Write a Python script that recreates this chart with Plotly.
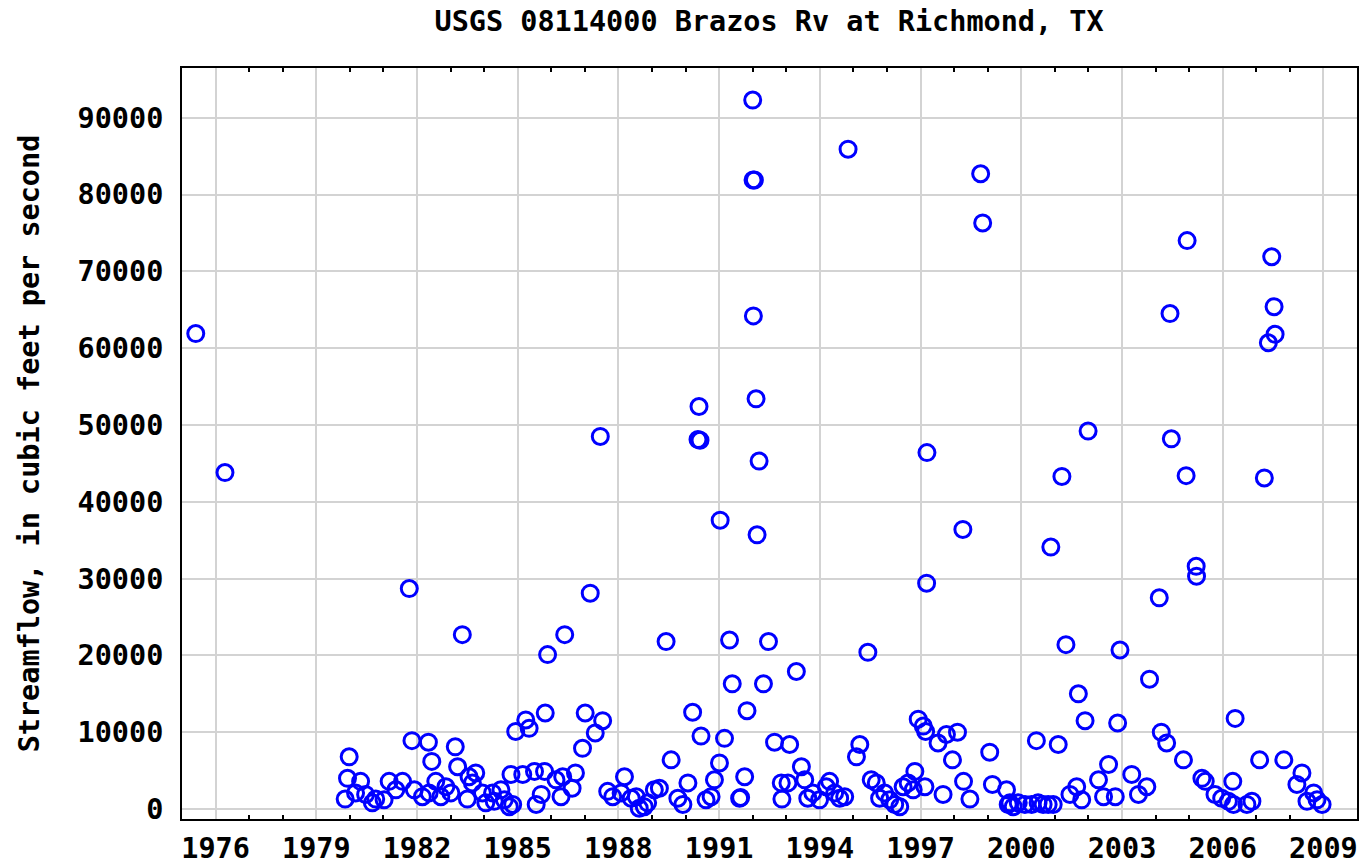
import plotly.graph_objects as go

title_text = "USGS 08114000 Brazos Rv at Richmond, TX"
y_title = "Streamflow, in cubic feet per second"

years = [
    1975.41, 1976.28,
    1979.86, 1979.93, 1979.98, 1980.17, 1980.32, 1980.47, 1980.67, 1980.77,
    1981.02, 1981.17, 1981.37, 1981.57, 1981.77, 1981.85, 1981.92,
    1982.16, 1982.34, 1982.36, 1982.44, 1982.56, 1982.71, 1982.86,
    1983.01, 1983.14, 1983.21, 1983.35, 1983.50, 1983.55, 1983.65, 1983.75, 1983.95,
    1984.05, 1984.25, 1984.30, 1984.50, 1984.60, 1984.75, 1984.80, 1984.85, 1984.94,
    1985.15, 1985.24, 1985.34, 1985.50, 1985.55, 1985.70, 1985.80, 1985.82, 1985.89,
    1986.14, 1986.29, 1986.34, 1986.40, 1986.62, 1986.72, 1986.93,
    1987.01, 1987.16, 1987.31, 1987.46, 1987.53, 1987.68, 1987.83,
    1988.08, 1988.18, 1988.38, 1988.53, 1988.62, 1988.77, 1988.87,
    1989.07, 1989.22, 1989.42, 1989.57, 1989.77, 1989.92,
    1990.07, 1990.21, 1990.37, 1990.40, 1990.43, 1990.46, 1990.61, 1990.76, 1990.86,
    1991.01, 1991.03, 1991.16, 1991.31, 1991.39, 1991.61, 1991.64, 1991.76, 1991.83,
    1992.00, 1992.01, 1992.05, 1992.02, 1992.10, 1992.19, 1992.13, 1992.32, 1992.47,
    1992.65, 1992.85, 1992.87,
    1993.05, 1993.10, 1993.30, 1993.45, 1993.55, 1993.64, 1993.79, 1993.99,
    1994.19, 1994.29, 1994.44, 1994.59, 1994.74, 1994.84,
    1995.09, 1995.19, 1995.43, 1995.53, 1995.68, 1995.78, 1995.93,
    1996.08, 1996.23, 1996.38, 1996.48, 1996.63, 1996.78, 1996.83, 1996.93,
    1997.08, 1997.13, 1997.15, 1997.18, 1997.19, 1997.52, 1997.67, 1997.77, 1997.95,
    1998.10, 1998.26, 1998.28, 1998.47, 1998.79, 1998.85,
    1999.06, 1999.14, 1999.56, 1999.61, 1999.66, 1999.76, 1999.91,
    2000.11, 2000.31, 2000.45, 2000.50, 2000.65, 2000.80, 2000.88, 2000.95,
    2001.10, 2001.21, 2001.33, 2001.45, 2001.65, 2001.70, 2001.80, 2001.90, 2001.99,
    2002.30, 2002.45, 2002.60, 2002.80, 2002.87, 2002.94,
    2003.29, 2003.49, 2003.74, 2003.82,
    2004.11, 2004.17, 2004.33, 2004.43, 2004.47, 2004.83, 2004.91, 2004.94,
    2005.21, 2005.22, 2005.38, 2005.48, 2005.77, 2005.97,
    2006.17, 2006.30, 2006.32, 2006.37, 2006.72, 2006.87,
    2007.10, 2007.24, 2007.36, 2007.46, 2007.53, 2007.56, 2007.82,
    2008.21, 2008.36, 2008.51, 2008.71, 2008.81, 2008.96,
]

flow = [
    61900, 43800,
    1300, 4000, 6800, 2100, 3600, 1900, 800, 1300,
    1200, 3600, 2500, 3600, 28700, 8900, 2500,
    1600, 8700, 2100, 6200, 3600, 1600, 2900,
    2100, 8100, 5500, 22700, 1300, 4200, 3400, 4700, 2100,
    800, 2100, 1000, 2500, 1200, 300, 4500, 600, 10100,
    4500, 11600, 10500, 4900, 600, 1900, 4900, 12500, 20100,
    3800, 1600, 4200, 22700, 2700, 4700, 7900,
    12500, 28100, 9900, 48500, 11500, 2300, 1600,
    2100, 4200, 1400, 1600, 100, 300, 800,
    2500, 2700, 21800, 6400, 1400, 600,
    3400, 12600, 48100, 52400, 48000, 9500, 1200, 1600, 3800,
    6000, 37600, 9200, 22000, 16300, 1400, 1500, 4200, 12800,
    92300, 81900, 81900, 64200, 53400, 45300, 35700, 16300, 21800,
    8700, 3400, 1300,
    3400, 8400, 17900, 5500, 3800, 1400, 2100, 1200,
    2900, 3600, 2100, 1400, 1600, 85900,
    6800, 8400, 20400, 3800, 3400, 1400, 2100,
    1200, 600, 300, 2900, 3400, 2500, 4900, 11700,
    10800, 2900, 10100, 29400, 46400, 8600, 1900, 9700, 6400,
    10000, 36400, 3600, 1300, 82700, 76300,
    7400, 3200, 2500, 600, 800, 300, 800,
    600, 600, 8900, 800, 600, 600, 34100, 600,
    8400, 43300, 21400, 1900, 2900, 15000, 1200, 11500, 49200,
    3800, 1600, 5800, 1600, 11200, 20700,
    4500, 1900, 2900, 16900,
    27500, 10000, 8600, 64500, 48200, 6400, 43400, 74000,
    31600, 30300, 4000, 3600, 1900, 1400,
    1000, 3600, 600, 11800, 600, 1000,
    6400, 43100, 60700, 71900, 65400, 61800, 6400,
    3200, 4700, 1000, 2100, 1200, 600,
]

x_ticks = list(range(1976, 2010, 3))
y_ticks = list(range(0, 100000, 10000))

FONT = "DejaVu Sans Mono"
FS = 28.5

fig = go.Figure()
fig.add_trace(go.Scatter(
    x=years, y=flow, mode="markers",
    marker=dict(symbol="circle-open", size=16, color="#0000ff",
                line=dict(width=3, color="#0000ff")),
    hoverinfo="x+y", showlegend=False,
))

fig.update_layout(
    width=1360, height=868,
    margin=dict(l=182, r=3, t=68, b=49, autoexpand=False),
    paper_bgcolor="white", plot_bgcolor="white",
    font=dict(family=FONT, size=FS, color="black", weight="bold"),
    title=dict(text=title_text, x=0.5655, xanchor="center",
               y=1 - 21 / 868, yanchor="middle", yref="container",
               font=dict(family=FONT, size=FS, color="black", weight="bold")),
)

fig.update_xaxes(
    range=[1975, 2010], tickmode="array", tickvals=x_ticks,
    ticktext=[str(v) for v in x_ticks],
    showgrid=True, gridcolor="#d3d3d3", gridwidth=2,
    showline=True, linecolor="black", linewidth=2, mirror="ticks",
    ticks="inside", ticklen=0, tickcolor="black",
    minor=dict(tickmode="array", tickvals=[v for v in range(1975, 2011) if v not in x_ticks],
               ticks="inside", ticklen=4, tickcolor="black", tickwidth=2, showgrid=False),
    ticklabelstandoff=3, automargin=False,
    zeroline=False,
    tickfont=dict(family=FONT, size=FS, color="black", weight="bold"),
)

fig.update_yaxes(
    range=[-1300, 96470], tickmode="array", tickvals=y_ticks,
    ticktext=[str(v) for v in y_ticks],
    showgrid=True, gridcolor="#d3d3d3", gridwidth=2,
    showline=True, linecolor="black", linewidth=2, mirror=True,
    ticks="", zeroline=False, automargin=False,
    ticklabelstandoff=11,
    tickfont=dict(family=FONT, size=FS, color="black", weight="bold"),
    title=dict(text=y_title, standoff=30,
               font=dict(family=FONT, size=FS, color="black", weight="bold")),
)

fig.write_html("out.html", config={"displayModeBar": False},
               post_script="document.body.style.margin='0';")
